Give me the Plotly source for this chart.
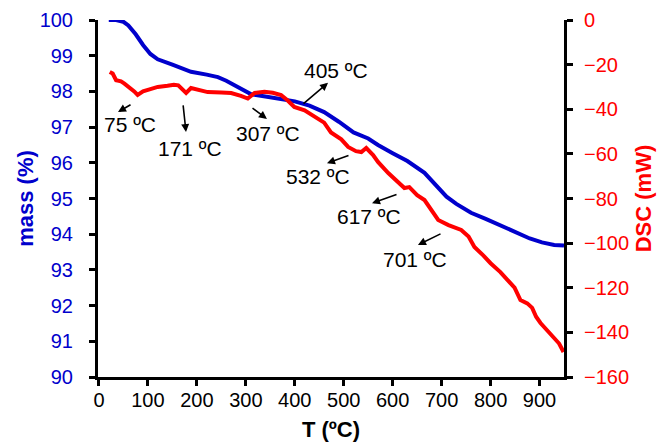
import plotly.graph_objects as go

# ---- data ----
mass_T = [20, 35, 50, 60, 75, 90, 105, 120, 150, 188, 220, 243, 260, 276, 295, 311, 340,
          370, 400, 430, 460, 490, 520, 550, 570, 600, 630, 665, 690, 710, 730, 760, 790,
          820, 850, 880, 905, 930, 950]
mass_pct = [100.0, 100.0, 99.95, 99.85, 99.6, 99.3, 99.05, 98.9, 98.75, 98.55, 98.47, 98.40,
            98.3, 98.18, 98.02, 97.92, 97.86, 97.80, 97.72, 97.6, 97.42, 97.15, 96.85, 96.68,
            96.5, 96.27, 96.05, 95.72, 95.35, 95.05, 94.85, 94.6, 94.43, 94.25, 94.06, 93.88,
            93.77, 93.70, 93.68]

dsc_T = [22, 28, 35, 45, 52, 65, 72, 79, 90, 105, 120, 140, 153, 162, 170, 178, 188, 205,
         222, 250, 270, 290, 304, 318, 338, 355, 372, 385, 399, 420, 440, 460, 474, 495,
         509, 525, 536, 546, 560, 570, 591, 610, 624, 634, 650, 665, 680, 693, 714, 740,
         755, 767, 785, 800, 820, 834, 849, 861, 875, 885, 893, 902, 915, 929, 940, 949]
dsc_mW = [-23.3, -24, -27, -27.5, -28.5, -30.5, -32, -33.6, -32, -31, -30, -29.5, -29.0,
          -29.3, -31, -32.7, -30.5, -31.5, -32.3, -32.5, -32.7, -34, -35.2, -32.7, -32.2,
          -32.6, -33.6, -36, -39.0, -40.5, -43.5, -46, -50.4, -53.5, -56.9, -58.8, -59.2,
          -57.4, -60.5, -63.6, -68.6, -72.5, -75.3, -74.9, -78.5, -80.7, -85.5, -89.6,
          -91.9, -94.1, -97, -101.7, -105.5, -109, -113, -116.5, -120, -125.5, -127, -129,
          -133, -135.8, -139, -142, -145, -148.8]

# annotation labels (text position, arrow tail, arrow head) in T / mass coordinates
ann_text = ["75 ºC", "171 ºC", "307 ºC", "405 ºC", "532 ºC", "617 ºC", "701 ºC"]
ann_text_T = [63.4, 185.9, 346.3, 483.2, 447.4, 550.6, 645.6]
ann_text_m = [97.06, 96.41, 96.82, 98.59, 95.62, 94.50, 93.28]
arrow_tail_T = [67.5, 171.6, 310.6, 414.8, 512.8, 610.9, 700.8]
arrow_tail_m = [97.65, 97.65, 97.56, 97.62, 96.22, 95.13, 94.03]
arrow_head_T = [38.9, 177.8, 343.2, 468.0, 465.8, 557.8, 651.7]
arrow_head_m = [97.42, 96.86, 97.23, 98.24, 95.99, 94.87, 93.70]

x_ticks = [0, 100, 200, 300, 400, 500, 600, 700, 800, 900]

BLUE = "#0000CC"
RED = "#FF0000"
FONT = "Liberation Sans, Arial, sans-serif"

fig = go.Figure()
fig.add_trace(go.Scatter(x=mass_T, y=mass_pct, mode="lines",
                         line=dict(color=BLUE, width=4), yaxis="y", showlegend=False))
fig.add_trace(go.Scatter(x=dsc_T, y=dsc_mW, mode="lines",
                         line=dict(color=RED, width=4), yaxis="y2", showlegend=False))

annotations = []
for t, tx, ty in zip(ann_text, ann_text_T, ann_text_m):
    annotations.append(dict(x=tx, y=ty, xref="x", yref="y", text=t, showarrow=False,
                            font=dict(family=FONT, size=21, color="black")))
for hx, hy, tx, ty in zip(arrow_head_T, arrow_head_m, arrow_tail_T, arrow_tail_m):
    annotations.append(dict(x=hx, y=hy, xref="x", yref="y", ax=tx, ay=ty,
                            axref="x", ayref="y", text="", showarrow=True,
                            arrowhead=2, arrowsize=1, arrowwidth=1.6,
                            arrowcolor="black", standoff=0, startstandoff=0))

axis_common = dict(showline=True, linewidth=3, linecolor="black", ticks="outside",
                   ticklen=6, tickwidth=3, tickcolor="black", showgrid=False,
                   zeroline=False, mirror=False, automargin=False)

# the page body adds an 8 px offset, so the figure is sized to the visible area
fig.update_layout(
    width=662, height=437,
    margin=dict(l=90, r=106, t=12, b=68),
    paper_bgcolor="white", plot_bgcolor="white",
    font=dict(family=FONT, size=20, color="black"),
    xaxis=dict(range=[-2, 950], tickvals=x_ticks, ticktext=[str(v) for v in x_ticks],
               tickfont=dict(size=20, color="black"), ticklabelstandoff=-3,
               title=dict(text="<b>T (ºC)</b>", font=dict(size=22, color="black"), standoff=12),
               **axis_common),
    yaxis=dict(range=[90, 100], dtick=1, tickfont=dict(size=20, color=BLUE),
               ticklabelstandoff=12,
               title=dict(text="<b>mass (%)</b>", font=dict(size=22, color=BLUE), standoff=0),
               **axis_common),
    yaxis2=dict(range=[-160, 0], dtick=20, overlaying="y", side="right",
                tickfont=dict(size=20, color=RED), ticklabelstandoff=7,
                title=dict(text="<b>DSC (mW)</b>", font=dict(size=22, color=RED), standoff=8),
                **axis_common),
    annotations=annotations,
)

fig.write_html("out.html")
